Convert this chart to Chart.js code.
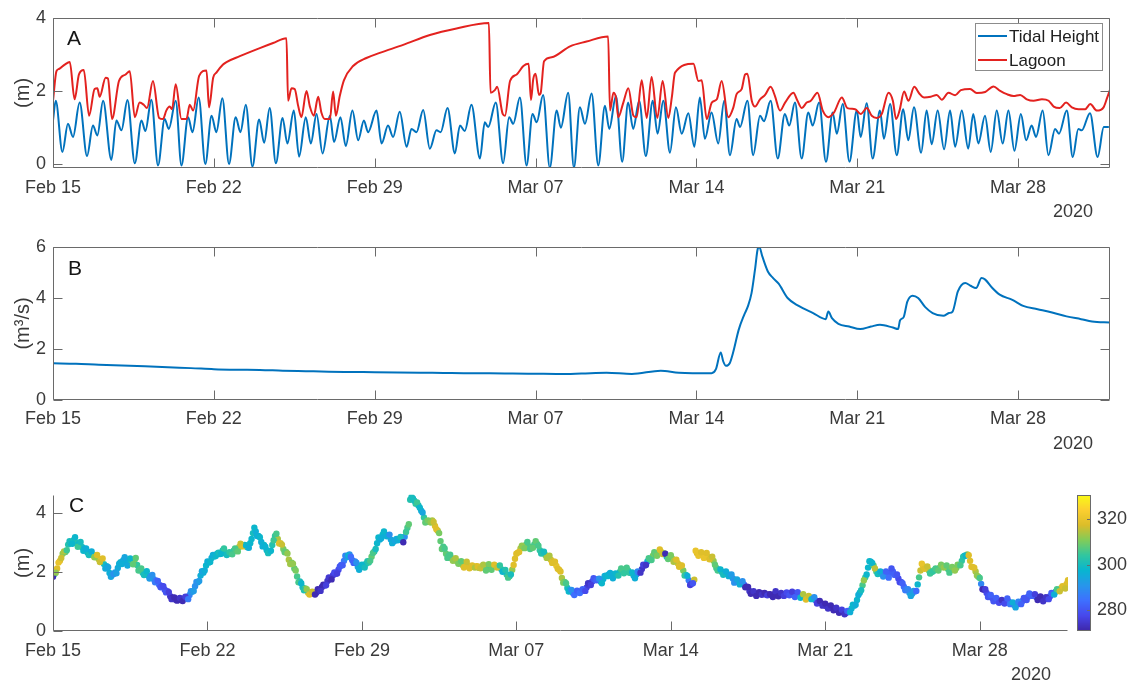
<!DOCTYPE html>
<html lang="en">
<head>
<meta charset="utf-8">
<title>Tide, lagoon level, discharge and level, Feb to Mar 2020</title>
<script src="https://cdn.jsdelivr.net/npm/chart.js@4.4.1/dist/chart.umd.min.js"></script>
<style>
  html, body { margin: 0; padding: 0; background: #ffffff; }
  #figure { position: relative; width: 1128px; height: 685px; overflow: hidden; background: #ffffff; }
  #figure canvas { position: absolute; left: 0; }
</style>
</head>
<body>
<div id="figure">
  <canvas id="panelA" width="1128" height="225" style="top:0px"></canvas>
  <canvas id="panelB" width="1128" height="230" style="top:225px"></canvas>
  <canvas id="panelC" width="1128" height="230" style="top:455px"></canvas>
</div>
<script>
// ---------- time axis (days since 15 Feb 2020 00:00) ----------
const tickDays   = [0, 7, 14, 21, 28, 35, 42];
const tickLabels = ['Feb 15', 'Feb 22', 'Feb 29', 'Mar 07', 'Mar 14', 'Mar 21', 'Mar 28'];
const yearLabel  = '2020';
const lastDay    = 46;

// ---------- value axes ----------
const ticksA = [0, 2, 4];
const ticksB = [0, 2, 4, 6];
const ticksC = [0, 2, 4];
const colourTicks = [280, 300, 320];
const colourRange = [270.9, 330.6];

// ---------- panel A: tidal height (turning points) ----------
const tideDays = [0, 0.12, 0.41, 0.65, 0.87, 1.16, 1.48, 1.74, 1.93, 2.18,
  2.54, 2.76, 2.98, 3.24, 3.56, 3.85, 4.02, 4.28, 4.57, 4.86,
  5.04, 5.34, 5.59, 5.88, 6.07, 6.34, 6.63, 6.90, 7.11, 7.37,
  7.66, 7.95, 8.16, 8.39, 8.68, 8.97, 9.19, 9.43, 9.70, 9.99,
  10.20, 10.48, 10.71, 11.00, 11.22, 11.47, 11.73, 12.05, 12.23, 12.51,
  12.74, 13.03, 13.28, 13.53, 13.71, 14.08, 14.30, 14.58, 14.80, 15.09,
  15.39, 15.60, 15.82, 16.11, 16.40, 16.69, 16.87, 17.17, 17.49, 17.71,
  17.92, 18.21, 18.58, 18.79, 18.94, 19.27, 19.59, 19.85, 20.03, 20.32,
  20.61, 20.87, 21.05, 21.33, 21.62, 21.92, 22.10, 22.42, 22.67, 22.93,
  23.15, 23.44, 23.73, 24.02, 24.21, 24.50, 24.77, 25.03, 25.25, 25.51,
  25.80, 26.10, 26.31, 26.56, 26.85, 27.11, 27.36, 27.65, 27.91, 28.15,
  28.37, 28.66, 28.95, 29.21, 29.46, 29.75, 29.90, 30.22, 30.47, 30.77,
  30.94, 31.23, 31.54, 31.85, 32.04, 32.29, 32.58, 32.87, 33.06, 33.34,
  33.64, 33.93, 34.11, 34.37, 34.66, 34.98, 35.15, 35.41, 35.67, 35.99,
  36.16, 36.43, 36.72, 37.00, 37.22, 37.47, 37.78, 38.02, 38.24, 38.50,
  38.78, 39.04, 39.26, 39.55, 39.83, 40.05, 40.27, 40.56, 40.81, 41.07,
  41.33, 41.58, 41.84, 42.12, 42.35, 42.59, 42.78, 43.07, 43.32, 43.61,
  43.78, 44.12, 44.38, 44.62, 44.77, 45.13, 45.46, 45.73, 45.95];
const tideHeight = [1.19, 1.73, 0.33, 1.10, 0.74, 1.68, 0.22, 1.05, 0.78, 1.73,
  0.11, 1.19, 0.92, 1.75, 0.02, 1.19, 0.90, 1.76, -0.04, 1.23,
  0.96, 1.73, -0.04, 1.28, 0.87, 1.82, 0.00, 1.32, 0.87, 1.80,
  0.00, 1.28, 0.87, 1.62, -0.07, 1.22, 0.58, 1.53, 0.02, 1.26,
  0.56, 1.46, 0.20, 1.28, 0.56, 1.37, 0.29, 1.32, 0.60, 1.28,
  0.49, 1.46, 0.65, 1.19, 0.87, 1.46, 0.56, 1.05, 0.74, 1.43,
  0.47, 0.96, 0.87, 1.48, 0.42, 0.92, 0.87, 1.53, 0.29, 1.05,
  0.90, 1.62, 0.15, 1.14, 1.01, 1.68, 0.02, 1.28, 1.10, 1.82,
  -0.04, 1.37, 1.14, 1.89, -0.10, 1.46, 0.99, 1.95, -0.10, 1.55,
  1.10, 1.93, -0.04, 1.59, 0.96, 1.86, 0.06, 1.68, 0.96, 1.73,
  0.22, 1.73, 0.83, 1.73, 0.31, 1.55, 0.83, 1.39, 0.47, 1.82,
  0.69, 1.41, 0.56, 1.73, 0.24, 1.23, 1.01, 1.73, 0.24, 1.32,
  1.17, 1.73, 0.15, 1.37, 1.05, 1.68, 0.15, 1.41, 1.05, 1.68,
  0.06, 1.41, 0.83, 1.64, 0.06, 1.46, 0.74, 1.66, 0.15, 1.46,
  0.69, 1.64, 0.24, 1.50, 0.65, 1.55, 0.31, 1.46, 0.54, 1.46,
  0.40, 1.46, 0.47, 1.46, 0.42, 1.37, 0.56, 1.32, 0.33, 1.46,
  0.56, 1.46, 0.36, 1.37, 0.65, 1.05, 0.74, 1.46, 0.24, 0.96,
  0.83, 1.46, 0.19, 0.96, 0.92, 1.39, 0.19, 1.01, 1.01];

// ---------- panel A: lagoon water level ----------
const lagoonDays = [0, 0.15, 0.26, 0.51, 0.73, 0.94, 1.13, 1.34, 1.57, 1.81,
  1.93, 2.03, 2.29, 2.39, 2.57, 2.87, 3.16, 3.34, 3.56, 3.77,
  3.95, 4.09, 4.35, 4.62, 4.79, 4.93, 5.08, 5.18, 5.34, 5.59,
  5.81, 5.95, 6.10, 6.36, 6.68, 6.79, 6.97, 7.11, 7.40, 7.55,
  8.13, 9.00, 9.58, 10.16, 10.23, 10.38, 10.52, 10.67, 10.81, 11.03,
  11.18, 11.35, 11.54, 11.68, 11.83, 12.05, 12.19, 12.31, 12.48, 12.66,
  13.06, 13.64, 14.22, 15.24, 16.40, 17.56, 18.97, 19.04, 19.23, 19.33,
  19.57, 19.67, 19.89, 20.18, 20.47, 20.70, 20.80, 20.90, 21.00, 21.15,
  21.22, 21.37, 21.70, 22.50, 23.22, 24.16, 24.24, 24.39, 24.50, 24.60,
  24.82, 25.04, 25.26, 25.40, 25.62, 25.84, 26.05, 26.30, 26.53, 26.78,
  26.93, 27.07, 27.87, 28.09, 28.23, 28.45, 28.67, 28.89, 29.10, 29.39,
  29.61, 29.75, 29.97, 30.12, 30.22, 30.41, 30.55, 30.77, 30.99, 31.23,
  31.42, 31.64, 31.86, 32.22, 32.40, 32.59, 32.80, 32.98, 33.27, 33.50,
  33.75, 33.99, 34.33, 34.57, 34.91, 35.15, 35.42, 35.63, 35.85, 36.07,
  36.36, 36.55, 36.69, 36.84, 37.04, 37.23, 37.48, 37.70, 37.91, 38.20,
  38.46, 38.68, 38.97, 39.26, 39.51, 39.91, 40.20, 40.57, 40.93, 41.22,
  41.51, 41.80, 42.09, 42.38, 42.67, 43.04, 43.33, 43.55, 43.81, 44.09,
  44.34, 44.63, 44.92, 45.14, 45.43, 45.72, 45.87, 46.01];
const lagoonLevel = [1.73, 2.54, 2.60, 2.72, 2.79, 1.77, 2.45, 2.57, 1.32, 2.05,
  2.07, 1.84, 2.36, 2.34, 1.23, 2.27, 2.45, 2.54, 1.28, 1.68,
  1.62, 1.53, 2.27, 1.26, 1.23, 1.46, 1.57, 1.50, 2.18, 1.23,
  1.23, 1.62, 1.46, 2.41, 2.56, 1.55, 2.36, 2.50, 2.72, 2.79,
  2.95, 3.17, 3.31, 3.44, 1.73, 2.07, 2.05, 1.59, 1.28, 2.00,
  1.57, 1.32, 1.84, 1.41, 1.23, 1.23, 1.98, 1.32, 1.86, 2.29,
  2.68, 2.90, 3.04, 3.26, 3.53, 3.71, 3.86, 1.95, 2.02, 2.11,
  1.37, 1.32, 2.27, 2.45, 2.68, 2.74, 1.75, 2.32, 2.47, 1.89,
  1.93, 2.81, 2.92, 3.22, 3.35, 3.49, 1.46, 1.95, 1.82, 1.28,
  1.68, 2.07, 1.32, 1.28, 2.29, 1.26, 2.38, 1.26, 2.27, 1.26,
  1.82, 2.50, 2.74, 2.27, 2.29, 1.23, 1.68, 1.77, 2.27, 1.28,
  1.55, 1.91, 2.05, 2.45, 2.47, 1.73, 1.57, 1.77, 1.89, 2.11,
  1.86, 1.46, 1.68, 1.95, 1.73, 1.53, 1.68, 1.73, 1.95, 1.46,
  1.28, 1.41, 1.82, 1.53, 1.50, 1.37, 1.53, 1.32, 1.26, 1.37,
  1.95, 1.73, 1.23, 1.46, 1.98, 1.73, 2.11, 1.93, 1.82, 1.84,
  1.89, 1.76, 1.95, 1.88, 2.02, 2.05, 1.94, 1.97, 2.12, 2.00,
  1.91, 1.86, 1.89, 1.77, 1.73, 1.77, 1.73, 1.57, 1.53, 1.68,
  1.55, 1.50, 1.50, 1.64, 1.46, 1.55, 1.80, 2.05];

// ---------- panel B: discharge (m3/s) ----------
const flowDays = [0, 1, 2, 3, 4, 5, 6, 7, 8, 9, 10, 11, 12, 13, 14, 15, 16, 17, 18, 19, 20, 21,
  22.04, 23, 24.09, 25.19, 26.45, 27.24, 28.66, 28.85,
  29.06, 29.17, 29.29, 29.45, 29.61, 29.84, 30.08, 30.24, 30.40, 30.55,
  30.68, 30.74, 30.87, 31.11, 31.34, 31.58, 31.97, 32.45, 33.08, 33.63,
  33.74, 33.90, 34.18, 34.65, 35.13, 35.60, 35.99, 36.55, 36.78, 36.86,
  37.02, 37.18, 37.41, 37.65, 37.96, 38.28, 38.75, 38.99, 39.15, 39.38,
  39.70, 39.93, 40.17, 40.41, 40.57, 40.88, 41.20, 41.75, 42.22, 42.85,
  43.48, 44.11, 44.74, 45.22, 46.00];
const flowRate = [1.44, 1.42, 1.38, 1.35, 1.32, 1.28, 1.25, 1.21, 1.19, 1.18, 1.15, 1.13, 1.11, 1.10, 1.09, 1.08, 1.07, 1.06, 1.05, 1.05, 1.04, 1.03,
  1.02, 1.04, 1.07, 1.02, 1.15, 1.07, 1.05, 1.21,
  1.86, 1.51, 1.34, 1.44, 1.90, 2.75, 3.34, 3.67, 4.19, 5.11,
  5.96, 6.00, 5.63, 5.04, 4.78, 4.56, 4.00, 3.69, 3.41, 3.17,
  3.47, 3.21, 2.99, 2.88, 2.78, 2.88, 2.95, 2.84, 2.78, 3.12,
  3.25, 3.86, 4.09, 4.00, 3.64, 3.41, 3.30, 3.41, 3.47, 4.26,
  4.59, 4.48, 4.39, 4.78, 4.72, 4.39, 4.13, 3.93, 3.69, 3.56,
  3.43, 3.28, 3.17, 3.08, 3.04];

// ---------- panel C: level (m) sampled every 3 h, plus the samples taken 1.5 h later ----------
const levelStepDays = 0.125;
const levelC = [
  1.84, 1.98, 2.32, 2.48, 2.70, 2.74, 3.05, 2.96,
  3.18, 2.86, 3.02, 2.72, 2.80, 2.58, 2.70, 2.50,
  2.58, 2.34, 2.46, 2.12, 2.16, 1.84, 1.93, 1.96,
  2.28, 2.27, 2.50, 2.22, 2.46, 2.26, 2.48, 2.05,
  2.12, 1.90, 2.03, 1.78, 1.90, 1.65, 1.70, 1.48,
  1.52, 1.31, 1.32, 1.08, 1.14, 1.03, 1.12, 1.02,
  1.16, 1.08, 1.35, 1.36, 1.66, 1.70, 2.03, 2.05,
  2.36, 2.34, 2.58, 2.54, 2.66, 2.62, 2.80, 2.58,
  2.67, 2.60, 2.80, 2.70, 2.96, 2.87, 2.90, 2.82,
  3.12, 3.50, 3.22, 3.18, 2.87, 2.86, 2.64, 2.72,
  3.08, 3.30, 2.97, 2.93, 2.67, 2.63, 2.27, 2.28,
  2.05, 1.65, 1.62, 1.38, 1.42, 1.24, 1.33, 1.24,
  1.42, 1.36, 1.57, 1.55, 1.82, 1.75, 1.99, 1.95,
  2.19, 2.23, 2.55, 2.56, 2.52, 2.31, 2.32, 2.08,
  2.25, 2.15, 2.37, 2.38, 2.65, 2.78, 3.17, 3.15,
  3.38, 3.21, 3.27, 2.98, 3.07, 3.08, 3.19, 3.01,
  3.36, 3.62, 4.55, 4.42, 4.36, 4.18, 4.02, 3.68,
  3.75, 3.68, 3.70, 3.45, 3.32, 2.78, 2.80, 2.48,
  2.59, 2.38, 2.47, 2.28, 2.37, 2.15, 2.35, 2.13,
  2.22, 2.15, 2.19, 2.13, 2.25, 2.05, 2.27, 2.08,
  2.25, 2.15, 2.22, 2.01, 2.07, 1.81, 1.92, 2.24,
  2.62, 2.68, 2.89, 2.81, 3.02, 2.78, 2.82, 3.05,
  2.89, 2.63, 2.69, 2.48, 2.55, 2.31, 2.35, 2.11,
  2.02, 1.64, 1.62, 1.34, 1.39, 1.22, 1.37, 1.29,
  1.42, 1.36, 1.62, 1.56, 1.79, 1.72, 1.77, 1.62,
  1.87, 1.86, 1.97, 1.79, 1.95, 1.88, 2.12, 1.96,
  2.15, 1.98, 1.99, 1.79, 2.02, 1.98, 2.25, 2.24,
  2.47, 2.41, 2.67, 2.55, 2.77, 2.61, 2.62, 2.44,
  2.57, 2.35, 2.42, 2.18, 2.22, 1.88, 1.87, 1.56,
  1.62, 2.72, 2.55, 2.67, 2.48, 2.65, 2.43, 2.52,
  2.25, 2.05, 2.09, 1.91, 2.02, 1.86, 1.92, 1.64,
  1.75, 1.58, 1.69, 1.48, 1.49, 1.26, 1.35, 1.19,
  1.32, 1.23, 1.29, 1.21, 1.25, 1.15, 1.35, 1.18,
  1.29, 1.19, 1.31, 1.21, 1.33, 1.15, 1.32, 1.13,
  1.25, 1.07, 1.19, 1.08, 1.15, 0.93, 1.02, 0.86,
  0.93, 0.76, 0.87, 0.70, 0.79, 0.62, 0.72, 0.57,
  0.68, 0.64, 0.89, 0.89, 1.22, 1.38, 1.72, 1.92,
  2.37, 2.31, 2.12, 1.93, 2.02, 1.85, 2.02, 1.81,
  2.12, 1.91, 1.92, 1.65, 1.62, 1.38, 1.42, 1.19,
  1.36, 1.36, 1.82, 2.28, 2.11, 2.19, 1.95, 2.02,
  2.12, 2.05, 2.25, 2.15, 2.22, 1.98, 2.17, 2.05,
  2.25, 2.23, 2.52, 2.56, 2.57, 2.18, 2.15, 1.88,
  1.80, 1.42, 1.42, 1.15, 1.22, 1.01, 1.12, 0.96,
  1.05, 0.93, 1.10, 0.91, 0.97, 0.80, 0.99, 0.91,
  1.12, 1.05, 1.27, 1.19, 1.25, 1.05, 1.17, 1.01,
  1.15, 1.08, 1.29, 1.24, 1.42, 1.35, 1.52, 1.44,
  1.72];
const colourC = [
  272, 312, 320, 316, 314, 305, 300, 298,
  298, 305, 300, 298, 296, 300, 296, 312,
  318, 316, 318, 295, 294, 294, 290, 293,
  296, 296, 294, 295, 298, 308, 308, 306,
  306, 300, 298, 292, 290, 286, 282, 280,
  278, 280, 276, 274, 272, 272, 274, 272,
  276, 286, 290, 292, 290, 292, 294, 296,
  296, 298, 296, 298, 300, 298, 304, 300,
  304, 306, 306, 308, 316, 318, 298, 296,
  298, 298, 296, 298, 296, 297, 300, 298,
  305, 306, 318, 316, 308, 312, 313, 312,
  310, 306, 298, 302, 312, 318, 316, 272,
  272, 274, 272, 276, 275, 272, 278, 276,
  280, 281, 288, 296, 284, 282, 290, 296,
  298, 300, 302, 306, 306, 300, 298, 296,
  298, 296, 290, 296, 294, 296, 300, 272,
  305, 308, 300, 300, 305, 298, 294, 308,
  310, 312, 316, 318, 310, 308, 306, 306,
  306, 312, 314, 310, 308, 318, 316, 318,
  318, 314, 318, 316, 314, 308, 310, 308,
  318, 316, 304, 298, 302, 306, 300, 318,
  318, 318, 312, 310, 306, 306, 308, 308,
  306, 302, 300, 314, 314, 318, 318, 318,
  318, 310, 306, 298, 290, 284, 282, 284,
  282, 278, 274, 276, 280, 282, 290, 298,
  296, 298, 296, 296, 298, 302, 306, 304,
  306, 304, 298, 296, 288, 274, 276, 274,
  306, 306, 308, 310, 318, 316, 272, 308,
  310, 314, 318, 318, 318, 304, 296, 276,
  280, 320, 320, 318, 320, 318, 318, 316,
  308, 306, 298, 300, 296, 296, 292, 290,
  294, 296, 290, 272, 272, 272, 274, 272,
  272, 274, 272, 276, 272, 272, 274, 272,
  274, 276, 278, 280, 276, 282, 280, 298,
  314, 318, 316, 298, 290, 276, 272, 274,
  272, 274, 272, 272, 274, 272, 276, 274,
  282, 296, 298, 296, 296, 300, 312, 298,
  298, 298, 315, 300, 296, 290, 282, 284,
  280, 282, 280, 278, 282, 286, 288, 294,
  292, 284, 306, 320, 318, 316, 305, 304,
  306, 308, 310, 312, 308, 306, 310, 312,
  310, 306, 302, 298, 318, 318, 318, 312,
  306, 272, 276, 280, 282, 280, 282, 278,
  274, 278, 282, 286, 296, 294, 288, 282,
  280, 280, 282, 282, 276, 272, 272, 274,
  274, 278, 282, 296, 306, 316, 318, 316,
  318];
const levelMid = [
  1.93, 2.12, 2.38, 2.62, 2.68, 2.93, 2.98, 3.08,
  3.00, 2.97, 2.85, 2.79, 2.66, 2.67, 2.57, 2.56,
  2.44, 2.42, 2.27, 2.20, 1.97, 1.91, 1.99, 2.14,
  2.33, 2.40, 2.34, 2.38, 2.32, 2.40, 2.24, 2.10,
  1.98, 1.99, 1.88, 1.86, 1.76, 1.71, 1.57, 1.53,
  1.40, 1.35, 1.18, 1.13, 1.06, 1.09, 1.05, 1.10,
  1.14, 1.22, 1.33, 1.52, 1.65, 1.88, 1.98, 2.22,
  2.32, 2.48, 2.53, 2.62, 2.61, 2.73, 2.66, 2.65,
  2.62, 2.72, 2.73, 2.85, 2.88, 2.92, 2.84, 2.98,
  3.32, 3.38, 3.22, 3.02, 2.92, 2.74, 2.70, 2.92,
  3.22, 3.12, 2.98, 2.78, 2.68, 2.42, 2.32, 2.12,
  1.85, 1.68, 1.48, 1.44, 1.30, 1.30, 1.27, 1.30,
  1.37, 1.49, 1.54, 1.70, 1.76, 1.89, 1.94, 2.08,
  2.24, 2.38, 2.50, 2.60, 2.40, 2.36, 2.18, 2.18,
  2.19, 2.28, 2.32, 2.52, 2.70, 2.98, 3.10, 3.27,
  3.26, 3.25, 3.10, 3.04, 3.12, 3.10, 3.09, 3.20,
  3.50, 4.45, 4.50, 4.32, 4.26, 4.08, 3.85, 3.72,
  3.70, 3.75, 3.56, 3.40, 3.05, 2.86, 2.62, 2.55,
  2.47, 2.44, 2.36, 2.33, 2.24, 2.27, 2.22, 2.20,
  2.17, 2.20, 2.14, 2.20, 2.15, 2.18, 2.14, 2.18,
  2.19, 2.20, 2.10, 2.06, 1.92, 1.86, 2.08, 2.45,
  2.66, 2.80, 2.84, 2.93, 2.88, 2.83, 2.94, 2.95,
  2.74, 2.68, 2.58, 2.53, 2.42, 2.35, 2.21, 2.08,
  1.80, 1.66, 1.46, 1.38, 1.29, 1.31, 1.32, 1.35,
  1.38, 1.48, 1.58, 1.68, 1.74, 1.76, 1.68, 1.76,
  1.88, 1.92, 1.87, 1.88, 1.90, 2.00, 2.03, 2.06,
  2.05, 1.97, 1.88, 1.92, 1.99, 2.10, 2.22, 2.36,
  2.43, 2.55, 2.60, 2.66, 2.68, 2.64, 2.52, 2.52,
  2.45, 2.40, 2.30, 2.22, 2.05, 1.90, 1.72, 1.60,
  1.74, 2.64, 2.62, 2.57, 2.58, 2.52, 2.48, 2.38,
  2.14, 2.08, 2.00, 1.98, 1.93, 1.90, 1.78, 1.70,
  1.66, 1.64, 1.58, 1.50, 1.36, 1.30, 1.27, 1.26,
  1.27, 1.27, 1.24, 1.24, 1.21, 1.25, 1.26, 1.24,
  1.24, 1.26, 1.25, 1.28, 1.23, 1.24, 1.22, 1.20,
  1.16, 1.13, 1.13, 1.12, 1.04, 0.98, 0.94, 0.88,
  0.84, 0.82, 0.78, 0.75, 0.70, 0.68, 0.64, 0.61,
  0.66, 0.76, 0.86, 1.05, 1.30, 1.55, 1.82, 2.15,
  2.35, 2.22, 2.02, 1.98, 1.93, 1.94, 1.90, 1.98,
  2.02, 1.90, 1.78, 1.66, 1.50, 1.41, 1.30, 1.26,
  1.34, 1.58, 2.05, 2.20, 2.16, 2.06, 2.00, 2.06,
  2.08, 2.15, 2.20, 2.18, 2.10, 2.08, 2.10, 2.14,
  2.24, 2.38, 2.55, 2.60, 2.38, 2.16, 2.02, 1.84,
  1.60, 1.40, 1.29, 1.18, 1.12, 1.07, 1.04, 1.00,
  0.99, 1.02, 1.00, 0.94, 0.88, 0.90, 0.95, 1.02,
  1.08, 1.16, 1.23, 1.22, 1.15, 1.11, 1.09, 1.08,
  1.12, 1.18, 1.27, 1.33, 1.38, 1.45, 1.47, 1.60];
const colourMid = [
  300, 318, 318, 312, 308, 302, 298, 300,
  302, 298, 300, 296, 298, 298, 316, 316,
  314, 320, 300, 296, 296, 292, 292, 295,
  298, 295, 296, 296, 304, 310, 304, 304,
  302, 300, 296, 290, 288, 284, 282, 278,
  280, 278, 274, 272, 274, 272, 272, 274,
  282, 288, 292, 290, 294, 296, 296, 298,
  298, 296, 300, 298, 298, 302, 300, 302,
  306, 304, 310, 314, 316, 300, 298, 298,
  300, 296, 298, 296, 298, 298, 300, 302,
  304, 314, 316, 310, 310, 314, 310, 308,
  306, 300, 300, 308, 316, 316, 290, 274,
  274, 272, 276, 274, 272, 276, 276, 278,
  282, 286, 294, 290, 282, 288, 294, 298,
  300, 300, 304, 308, 302, 298, 296, 298,
  296, 292, 294, 294, 296, 298, 284, 290,
  306, 302, 298, 304, 300, 296, 304, 310,
  314, 314, 318, 314, 308, 306, 308, 306,
  310, 316, 312, 308, 316, 318, 318, 316,
  316, 318, 314, 316, 310, 308, 306, 314,
  318, 308, 300, 300, 304, 302, 312, 318,
  318, 314, 310, 308, 306, 308, 306, 306,
  304, 300, 308, 316, 318, 316, 320, 318,
  314, 308, 300, 292, 286, 282, 284, 282,
  280, 276, 276, 278, 282, 286, 296, 296,
  298, 296, 298, 298, 300, 304, 304, 306,
  304, 300, 296, 292, 280, 274, 274, 296,
  306, 310, 306, 316, 318, 312, 300, 310,
  312, 316, 318, 316, 310, 300, 286, 274,
  316, 318, 320, 318, 318, 320, 316, 312,
  306, 302, 300, 298, 296, 294, 290, 292,
  296, 292, 282, 272, 274, 272, 272, 274,
  274, 272, 274, 272, 274, 272, 272, 274,
  276, 276, 280, 278, 280, 282, 290, 308,
  316, 318, 306, 294, 282, 274, 272, 272,
  272, 272, 274, 272, 272, 274, 274, 278,
  290, 298, 296, 298, 298, 306, 304, 298,
  296, 308, 306, 298, 292, 286, 284, 282,
  282, 280, 278, 280, 284, 288, 292, 292,
  288, 298, 316, 318, 316, 310, 306, 306,
  308, 310, 312, 310, 306, 308, 312, 310,
  308, 304, 298, 312, 318, 318, 314, 308,
  288, 274, 278, 282, 280, 282, 280, 276,
  276, 280, 284, 294, 296, 290, 284, 280,
  280, 282, 282, 278, 274, 272, 274, 274,
  276, 280, 290, 302, 312, 318, 316, 318];

// ---------- styling ----------
const FONT = '"Liberation Sans", Arial, Helvetica, sans-serif';
const AXIS_COLOUR = '#6a6a6a';
const INK = '#3a3a3a';
const TICK_LEN = 9;
const TIDE_COLOUR = '#0072BD';
const LAGOON_COLOUR = '#E3221F';

Chart.defaults.font.family = FONT;
Chart.defaults.color = INK;

// parula colormap, ten evenly spaced anchors
const parulaAnchors = [[62, 38, 168], [71, 71, 235], [62, 111, 255], [39, 150, 235], [8, 181, 208],
                       [49, 198, 159], [129, 204, 89], [220, 189, 41], [252, 207, 48], [249, 251, 21]];
function parula(t) {
  t = Math.min(1, Math.max(0, t));
  const f = t * (parulaAnchors.length - 1);
  const i = Math.min(parulaAnchors.length - 2, Math.floor(f));
  const u = f - i, a = parulaAnchors[i], b = parulaAnchors[i + 1];
  const c = a.map((v, k) => Math.round(v + (b[k] - v) * u));
  return 'rgb(' + c[0] + ',' + c[1] + ',' + c[2] + ')';
}
const colourOf = v => parula((v - colourRange[0]) / (colourRange[1] - colourRange[0]));

const toPoints = (xs, ys) => xs.map((x, i) => ({x: x, y: ys[i]}));

// ---------- shared axis builders ----------
function timeAxis(height, labelPad) {
  return {
    type: 'linear', min: 0, max: lastDay,
    afterBuildTicks: s => { s.ticks = tickDays.map(v => ({value: v})); },
    ticks: {
      autoSkip: false, maxRotation: 0, padding: labelPad, color: INK, font: {size: 18},
      callback: (v, i) => tickLabels[i]
    },
    grid: {display: false, drawTicks: false},
    border: {display: false},
    afterFit: s => { s.height = height; }
  };
}
function valueAxis(min, max, ticks, title) {
  return {
    type: 'linear', min: min, max: max,
    afterBuildTicks: s => { s.ticks = ticks.map(v => ({value: v})); },
    ticks: {padding: 7, color: INK, font: {size: 18}},
    grid: {display: false, drawTicks: false},
    border: {display: false},
    title: {display: true, text: title, color: INK, font: {size: 20}, padding: {top: 11, bottom: 0}},
    afterFit: s => { s.width = 53; }
  };
}

// ---------- plugins: axes box with inward ticks, panel letter, year ----------
const axesFrame = {
  id: 'axesFrame',
  afterDatasetsDraw(chart, args, o) {
    const ctx = chart.ctx, ca = chart.chartArea;
    const xs = chart.scales.x, ys = chart.scales.y;
    const L = Math.round(ca.left) + 0.5, R = Math.round(ca.right) - 0.5;
    const T = Math.round(ca.top) + 0.5, B = Math.round(ca.bottom) - 0.5;
    ctx.save();
    ctx.strokeStyle = AXIS_COLOUR;
    ctx.lineWidth = 1;
    ctx.beginPath();
    if (o.box) {
      ctx.rect(L, T, R - L, B - T);
    } else {
      ctx.moveTo(L, T); ctx.lineTo(L, B); ctx.lineTo(R, B);
    }
    xs.ticks.forEach(t => {
      const px = Math.round(xs.getPixelForValue(t.value)) + 0.5;
      ctx.moveTo(px, B); ctx.lineTo(px, B - TICK_LEN);
      if (o.box) { ctx.moveTo(px, T); ctx.lineTo(px, T + TICK_LEN); }
    });
    ys.ticks.forEach(t => {
      const py = Math.round(ys.getPixelForValue(t.value)) + 0.5;
      ctx.moveTo(L, py); ctx.lineTo(L + TICK_LEN, py);
      if (o.box) { ctx.moveTo(R, py); ctx.lineTo(R - TICK_LEN, py); }
    });
    ctx.stroke();

    ctx.fillStyle = '#151515';
    ctx.font = '21px ' + FONT;
    ctx.textAlign = 'left';
    ctx.textBaseline = 'middle';
    ctx.fillText(o.letter, ca.left + o.letterDx, ca.top + o.letterDy);

    ctx.fillStyle = INK;
    ctx.font = '18px ' + FONT;
    ctx.textAlign = 'right';
    ctx.fillText(yearLabel, ca.right - 17, ca.bottom + 44);
    ctx.restore();
  }
};

// legend box drawn inside panel A
const boxLegend = {
  id: 'boxLegend',
  afterDraw(chart, args, o) {
    const ctx = chart.ctx;
    ctx.save();
    ctx.fillStyle = '#ffffff';
    ctx.fillRect(o.x, o.y, o.w, o.h);
    ctx.strokeStyle = '#8c8c8c';
    ctx.lineWidth = 1;
    ctx.strokeRect(o.x + 0.5, o.y + 0.5, o.w, o.h);
    o.order.forEach((di, k) => {
      const ds = chart.data.datasets[di];
      const yy = o.y + o.rows[k];
      ctx.strokeStyle = ds.borderColor;
      ctx.lineWidth = 2;
      ctx.beginPath();
      ctx.moveTo(o.x + 3, yy);
      ctx.lineTo(o.x + 32, yy);
      ctx.stroke();
      ctx.fillStyle = '#202020';
      ctx.font = '17px ' + FONT;
      ctx.textAlign = 'left';
      ctx.textBaseline = 'middle';
      ctx.fillText(ds.label, o.x + 34, yy + 1);
    });
    ctx.restore();
  }
};

// colour bar beside panel C, using the 'cb' scale for its value range
const colourBar = {
  id: 'colourBar',
  afterDraw(chart, args, o) {
    const s = chart.scales.cb;
    const ctx = chart.ctx;
    const top = Math.round(s.top), bot = Math.round(s.bottom);
    ctx.save();
    for (let py = top; py < bot; py++) {
      ctx.fillStyle = colourOf(s.getValueForPixel(py + 0.5));
      ctx.fillRect(o.left, py, o.width, 1);
    }
    ctx.strokeStyle = AXIS_COLOUR;
    ctx.lineWidth = 1;
    ctx.strokeRect(o.left + 0.5, top + 0.5, o.width - 1, bot - top - 1);
    ctx.beginPath();
    colourTicks.forEach(v => {
      const py = Math.round(s.getPixelForValue(v)) + 0.5;
      ctx.moveTo(o.left + o.width - 1, py);
      ctx.lineTo(o.left + o.width - 4, py);
    });
    ctx.stroke();
    ctx.restore();
  }
};

const common = {
  responsive: false,
  animation: false,
  events: []
};

// ---------- panel A ----------
new Chart(document.getElementById('panelA'), {
  type: 'line',
  data: {
    datasets: [
      {label: 'Tidal Height', data: toPoints(tideDays, tideHeight), borderColor: TIDE_COLOUR,
       borderWidth: 2, pointRadius: 0, cubicInterpolationMode: 'monotone', order: 1, borderJoinStyle: 'round'},
      {label: 'Lagoon', data: toPoints(lagoonDays, lagoonLevel), borderColor: LAGOON_COLOUR,
       borderWidth: 2, pointRadius: 0, cubicInterpolationMode: 'monotone', order: 0, borderJoinStyle: 'round'}
    ]
  },
  options: Object.assign({}, common, {
    layout: {padding: {left: 0, top: 16, right: 18, bottom: 0}},
    plugins: {
      legend: {display: false}, tooltip: {enabled: false},
      axesFrame: {box: true, letter: 'A', letterDx: 14, letterDy: 21},
      boxLegend: {x: 975, y: 23, w: 127, h: 47, rows: [13, 37], order: [0, 1]}
    },
    scales: {
      x: timeAxis(57, 9),
      y: valueAxis(-0.11, 4, ticksA, '(m)')
    }
  }),
  plugins: [axesFrame, boxLegend]
});

// ---------- panel B ----------
new Chart(document.getElementById('panelB'), {
  type: 'line',
  data: {
    datasets: [
      {label: 'Discharge', data: toPoints(flowDays, flowRate), borderColor: TIDE_COLOUR,
       borderWidth: 2, pointRadius: 0, cubicInterpolationMode: 'monotone', borderJoinStyle: 'round'}
    ]
  },
  options: Object.assign({}, common, {
    layout: {padding: {left: 0, top: 22, right: 18, bottom: 0}},
    plugins: {
      legend: {display: false}, tooltip: {enabled: false},
      axesFrame: {box: true, letter: 'B', letterDx: 15, letterDy: 22}
    },
    scales: {
      x: timeAxis(55, 8.5),
      y: valueAxis(0, 6, ticksB, '(m\u00B3/s)')
    }
  }),
  plugins: [axesFrame]
});

// ---------- panel C ----------
const dotStyle = {borderWidth: 0, pointRadius: 3.2, pointHoverRadius: 3.2};
new Chart(document.getElementById('panelC'), {
  type: 'scatter',
  data: {
    datasets: [
      Object.assign({
        label: 'Level',
        data: levelC.map((y, i) => ({x: i * levelStepDays, y: y})),
        backgroundColor: colourC.map(colourOf)
      }, dotStyle),
      Object.assign({
        label: 'Level (half step)',
        data: levelMid.map((y, i) => ({x: (i + 0.5) * levelStepDays, y: y})),
        backgroundColor: colourMid.map(colourOf)
      }, dotStyle)
    ]
  },
  options: Object.assign({}, common, {
    layout: {padding: {left: 0, top: 23, right: 0, bottom: 0}},
    plugins: {
      legend: {display: false}, tooltip: {enabled: false},
      axesFrame: {box: false, letter: 'C', letterDx: 16, letterDy: 11},
      colourBar: {left: 1077, width: 14}
    },
    scales: {
      x: timeAxis(54, 9),
      y: valueAxis(0, 4.62, ticksC, '(m)'),
      cb: {
        axis: 'y', type: 'linear', position: 'right', min: colourRange[0], max: colourRange[1],
        afterBuildTicks: s => { s.ticks = colourTicks.map(v => ({value: v})); },
        ticks: {padding: 29, color: INK, font: {size: 18}},
        grid: {display: false, drawTicks: false},
        border: {display: false},
        afterFit: s => { s.width = 60; }
      }
    }
  }),
  plugins: [axesFrame, colourBar]
});
</script>
</body>
</html>
